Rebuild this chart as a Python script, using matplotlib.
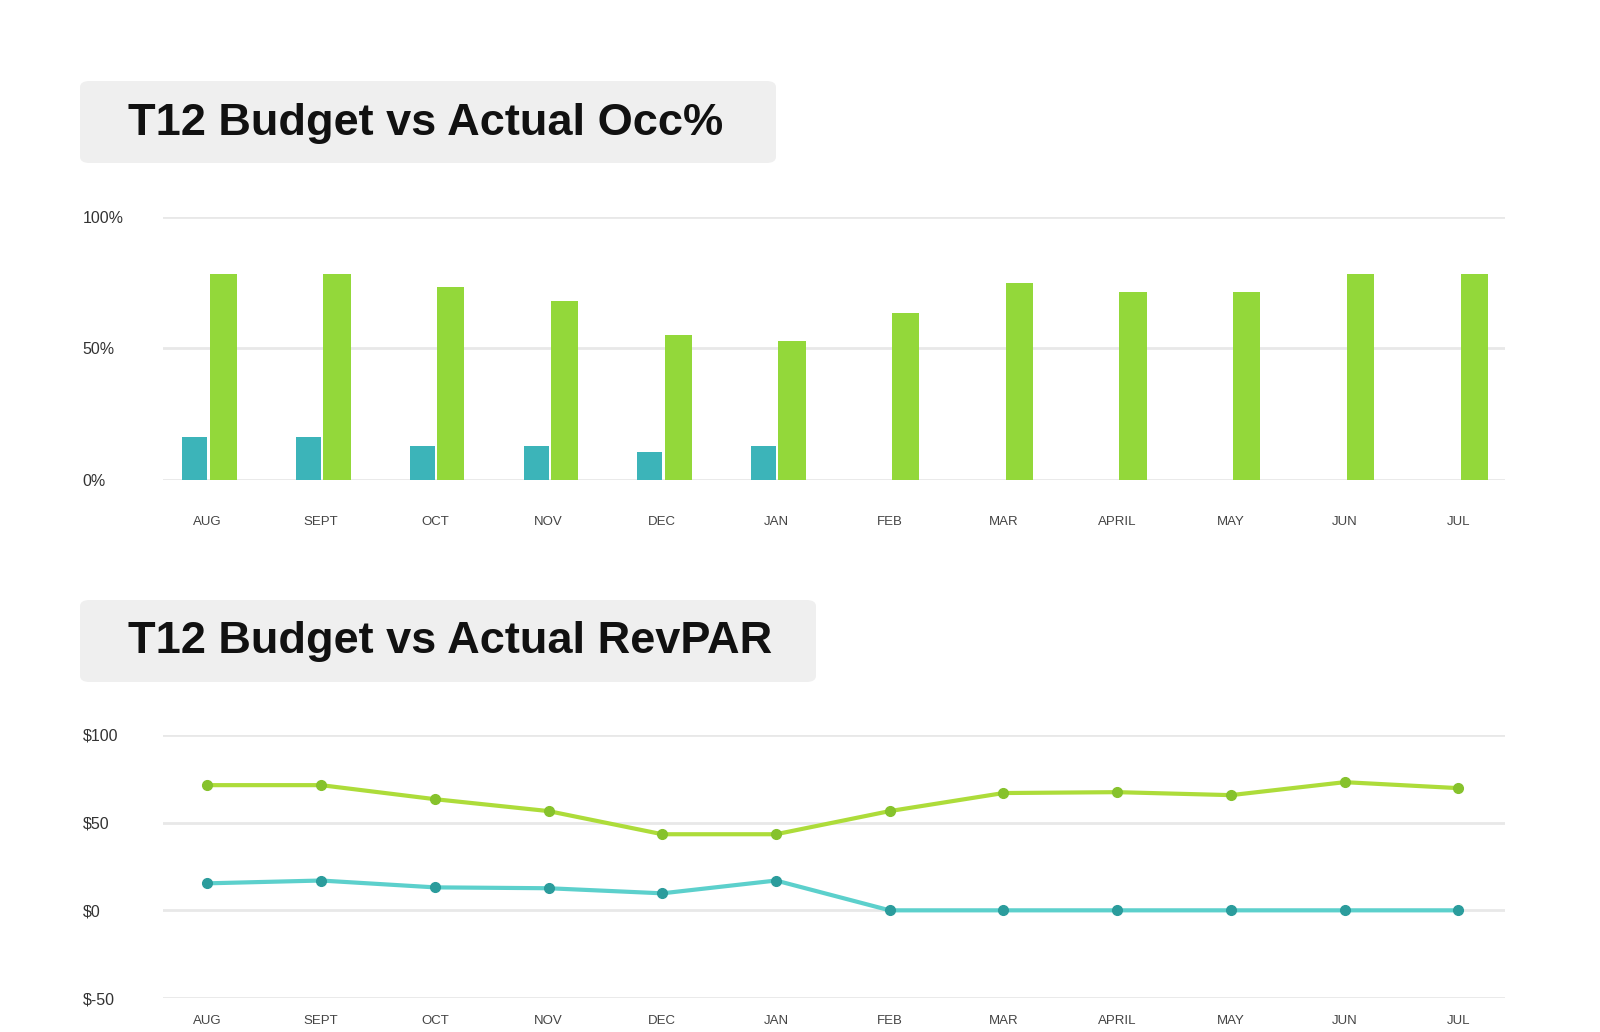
import numpy as np
import matplotlib
matplotlib.use("Agg")
import matplotlib.pyplot as plt
from matplotlib.patches import FancyBboxPatch

plt.rcParams['font.family'] = ['Liberation Sans', 'DejaVu Sans']

# data
months = ["AUG", "SEPT", "OCT", "NOV", "DEC", "JAN", "FEB", "MAR", "APRIL", "MAY", "JUN", "JUL"]
occ_actual = [16.4, 16.4, 13, 13, 10.6, 13, 0, 0, 0, 0, 0, 0]
occ_budget = [78.5, 78.5, 73.4, 68, 55, 53, 63.5, 75, 71.5, 71.5, 78.5, 78.5]
revpar_actual = [15.4, 17, 13.1, 12.6, 9.7, 17, 0, 0, 0, 0, 0, 0]
revpar_budget = [71.4, 71.4, 63.4, 56.6, 43.4, 43.4, 56.6, 66.9, 67.4, 65.7, 73.1, 69.7]
occ_ticks = [0, 50, 100]
occ_ticklabels = ["0%", "50%", "100%"]
rev_ticks = [-50, 0, 50, 100]
rev_ticklabels = ["$-50", "$0", "$50", "$100"]

teal = "#3cb4b9"
green = "#93d83a"
teal_dark = "#2b9c9c"
green_dark = "#86c22c"
grid_c = "#e8e8e8"

W, H = 1600, 1032
fig = plt.figure(figsize=(W / 100, H / 100), dpi=100)
fig.patch.set_facecolor("white")


def px(x0, y0, x1, y1):
    # pixel box (top-left origin) -> figure fraction rect
    return [x0 / W, 1 - y1 / H, (x1 - x0) / W, (y1 - y0) / H]


def title_box(x0, y0, x1, y1, text):
    r = px(x0, y0, x1, y1)
    box = FancyBboxPatch((r[0], r[1]), r[2], r[3],
                         boxstyle="round,pad=0,rounding_size=0.006",
                         transform=fig.transFigure, facecolor="#efefef",
                         edgecolor="none", zorder=0)
    fig.patches.append(box)
    fig.text(128 / W, 1 - ((y0 + y1) / 2 + 1) / H, text, fontsize=32.5,
             fontweight="bold", color="#111111", va="center", ha="left")


def style_axes(ax, ticks, labels, xpad):
    for s in ax.spines.values():
        s.set_visible(False)
    ax.set_xlim(-0.39, 11.41)
    ax.set_xticks(np.arange(len(months)))
    ax.set_xticklabels(months, fontsize=9.5, color="#444444")
    ax.set_yticks(ticks)
    ax.set_yticklabels(labels, fontsize=11.5, color="#333333")
    ax.tick_params(axis="both", length=0)
    ax.tick_params(axis="y", pad=58)
    ax.tick_params(axis="x", pad=xpad)
    for lab in ax.get_yticklabels():
        lab.set_horizontalalignment("left")
    ax.grid(axis="y", color=grid_c, linewidth=2)
    ax.grid(axis="x", visible=False)
    ax.set_axisbelow(True)


# top chart: occupancy bars
title_box(80, 81, 776, 163, "T12 Budget vs Actual Occ%")
ax1 = fig.add_axes(px(163, 217, 1505, 480))
x = np.arange(len(months))
ax1.bar(x - 0.11, occ_actual, width=0.22, color=teal, zorder=3)
ax1.bar(x + 0.14, occ_budget, width=0.24, color=green, zorder=3)
ax1.set_ylim(0, 100)
style_axes(ax1, occ_ticks, occ_ticklabels, 26)

# bottom chart: RevPAR lines
title_box(80, 600, 816, 682, "T12 Budget vs Actual RevPAR")
ax2 = fig.add_axes(px(163, 735, 1505, 998))
ax2.plot(x, revpar_budget, color="#addc3a", linewidth=3, marker="o",
         markersize=7, markerfacecolor=green_dark, markeredgecolor=green_dark, zorder=3)
ax2.plot(x, revpar_actual, color="#5cd0cc", linewidth=3, marker="o",
         markersize=7, markerfacecolor=teal_dark, markeredgecolor=teal_dark, zorder=3)
ax2.set_ylim(-50, 100)
style_axes(ax2, rev_ticks, rev_ticklabels, 12)

fig.savefig("out.png", dpi=100, facecolor="white")
